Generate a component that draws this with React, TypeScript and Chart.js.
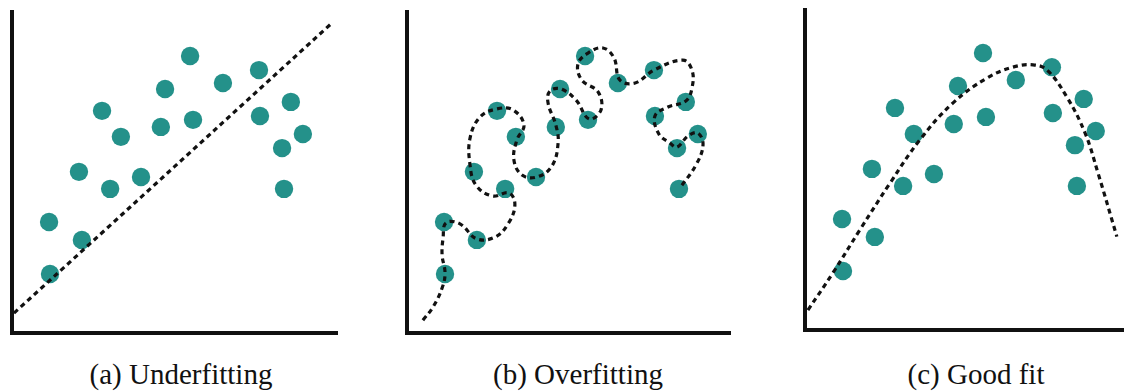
import React, { useEffect, useRef } from "react";
import { Chart, registerables } from "chart.js";

Chart.register(...registerables);

// Observed data points (same sample in all three panels)
const pointX = [1.17, 1.14, 2.15, 2.06, 3.02, 2.77, 3.35, 3.97, 4.58, 4.71, 5.48, 5.57, 6.49, 7.6, 7.63, 8.58, 8.95, 8.31, 8.37];
const pointY = [1.84, 3.46, 2.9, 5.02, 4.49, 6.92, 6.11, 4.86, 6.42, 7.6, 8.63, 6.64, 7.79, 8.19, 6.76, 7.2, 6.2, 5.76, 4.49];

// (a) Underfitting: straight line
const underfitX = [0.06, 9.88];
const underfitY = [0.62, 9.69];

// (b) Overfitting: wiggly curve through the points
const overfitX = [0.49, 0.8, 1.08, 1.17, 1.08, 1.11, 1.2, 1.63, 2.15, 2.71, 3.11, 3.32, 3.14, 2.62, 2.12, 1.94, 1.94, 2.25, 2.77, 3.26, 3.6, 3.38, 3.29, 3.54, 4.0, 4.46, 4.65, 4.58, 4.34, 4.4, 4.74, 5.2, 5.6, 5.97, 5.88, 5.38, 5.26, 5.57, 6.03, 6.37, 6.55, 7.02, 7.6, 8.49, 8.77, 8.77, 8.58, 8.03, 7.63, 7.75, 8.09, 8.31, 8.65, 8.95, 9.11, 8.89, 8.4];
const overfitY = [0.4, 0.81, 1.4, 1.87, 2.43, 2.96, 3.43, 3.4, 2.93, 2.99, 3.4, 3.99, 4.36, 4.27, 4.61, 5.23, 6.07, 6.73, 6.98, 6.95, 6.48, 6.01, 5.39, 4.92, 4.86, 5.2, 5.92, 6.48, 7.17, 7.54, 7.6, 7.26, 6.67, 6.95, 7.51, 7.88, 8.38, 8.72, 8.88, 8.57, 7.88, 7.79, 8.19, 8.5, 8.19, 7.63, 7.23, 7.04, 6.76, 6.2, 5.92, 5.79, 6.14, 6.23, 5.86, 5.23, 4.52];

// (c) Good fit: smooth arch
const goodfitX = [0.09, 0.86, 1.69, 2.62, 3.54, 4.55, 5.6, 6.4, 7.02, 7.45, 8.06, 8.62, 9.02, 9.6];
const goodfitY = [0.62, 1.78, 3.12, 4.58, 5.93, 7.07, 7.85, 8.19, 8.26, 8.1, 7.26, 6.14, 4.89, 2.91];

const panelLabels = ["(a) Underfitting", "(b) Overfitting", "(c) Good fit"];

const DOT = "#24918a";
const INK = "#111111";

const toXY = (xs: number[], ys: number[]) => xs.map((x, i) => ({ x, y: ys[i] }));

type PanelSpec = {
  left: number; top: number; right: number; bottom: number;
  xMax: number; yMax: number; padRight: number;
  lineX: number[]; lineY: number[]; label: string; labelCenter: number;
};

const panels: PanelSpec[] = [
  { left: 12, top: 12, right: 337, bottom: 333, xMax: 10, yMax: 10, padRight: 10, lineX: underfitX, lineY: underfitY, label: panelLabels[0], labelCenter: 181 },
  { left: 407, top: 12, right: 730, bottom: 333, xMax: 9.94, yMax: 10, padRight: 10, lineX: overfitX, lineY: overfitY, label: panelLabels[1], labelCenter: 578 },
  { left: 805, top: 10, right: 1124, bottom: 330, xMax: 9.82, yMax: 9.97, padRight: 0, lineX: goodfitX, lineY: goodfitY, label: panelLabels[2], labelCenter: 976 },
];

const PAD = 10;

function Panel({ spec }: { spec: PanelSpec }) {
  const ref = useRef<HTMLCanvasElement | null>(null);
  const w = spec.right - spec.left + PAD + spec.padRight;
  const h = spec.bottom - spec.top + 2 * PAD;

  useEffect(() => {
    if (!ref.current) return;
    const axis = (max: number) => ({
      type: "linear" as const,
      min: 0,
      max,
      grid: { display: false, drawTicks: false },
      ticks: { display: false },
      border: { display: true, width: 4, color: INK },
    });
    const chart = new Chart(ref.current, {
      type: "scatter",
      data: {
        datasets: [
          {
            data: toXY(spec.lineX, spec.lineY),
            showLine: true,
            borderColor: INK,
            borderWidth: 3.2,
            borderDash: [5, 4],
            pointRadius: 0,
            tension: 0.4,
            clip: false,
          } as any,
          {
            data: toXY(pointX, pointY),
            showLine: false,
            pointRadius: 9.2,
            pointHoverRadius: 9.2,
            pointBackgroundColor: DOT,
            pointBorderColor: DOT,
            pointBorderWidth: 0,
            clip: false,
          } as any,
        ],
      },
      options: {
        responsive: false,
        animation: false,
        devicePixelRatio: 1,
        layout: { autoPadding: false, padding: { left: PAD, right: spec.padRight, top: PAD, bottom: PAD } },
        plugins: { legend: { display: false }, tooltip: { enabled: false }, title: { display: false } },
        events: [],
        scales: { x: axis(spec.xMax), y: axis(spec.yMax) },
      } as any,
    });
    return () => chart.destroy();
  }, [spec]);

  return (
    <>
      <canvas
        ref={ref}
        width={w}
        height={h}
        style={{ position: "absolute", left: spec.left - PAD, top: spec.top - PAD, width: w, height: h }}
      />
      <div
        style={{
          position: "absolute",
          left: spec.labelCenter - 200,
          width: 400,
          top: 360,
          textAlign: "center",
          fontFamily: `"Liberation Serif", serif`,
          fontSize: 29,
          lineHeight: "29px",
          color: INK,
          whiteSpace: "nowrap",
        }}
      >
        {spec.label}
      </div>
    </>
  );
}

export default function App() {
  return (
    <div
      style={{
        position: "absolute",
        left: 0,
        top: 0,
        width: 1124,
        height: 392,
        overflow: "hidden",
        background: "#ffffff",
      }}
    >
      {panels.map((p, i) => (
        <Panel key={i} spec={p} />
      ))}
    </div>
  );
}
